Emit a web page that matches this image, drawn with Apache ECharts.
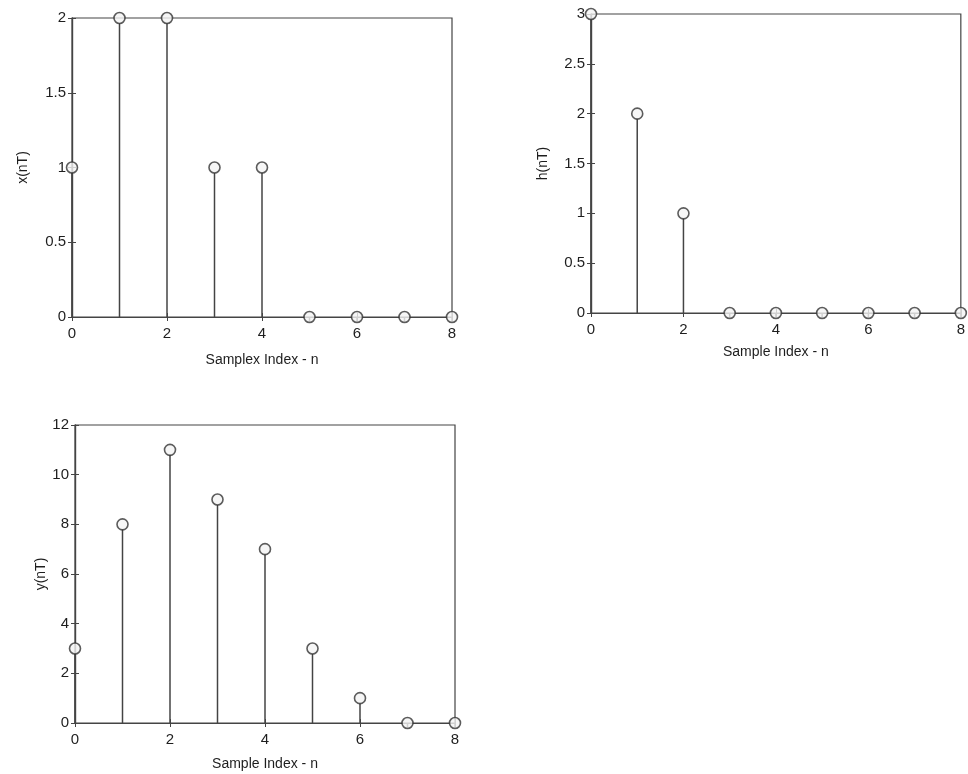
<!DOCTYPE html>
<html><head><meta charset="utf-8">
<script src="https://cdn.jsdelivr.net/npm/echarts@6/dist/echarts.min.js"></script>
<style>html,body{margin:0;padding:0;background:#fff}#c{width:968px;height:774px}</style>
</head><body><div id="c"></div>
<script>
const n = [0,1,2,3,4,5,6,7,8];
const xVals = [1,2,2,1,1,0,0,0,0];
const hVals = [3,2,1,0,0,0,0,0,0];
const yVals = [3,8,11,9,7,3,1,0,0];
const xTickLabels = ['0','2','4','6','8'];

const panels = [
  {vals: xVals, yMax: 2, yInt: 0.5, yName: 'x(nT)', xName: 'Samplex Index - n',
   grid: {left: 72, top: 18, width: 380, height: 299}, xGap: 36, yGap: 42},
  {vals: hVals, yMax: 3, yInt: 0.5, yName: 'h(nT)', xName: 'Sample Index - n',
   grid: {left: 591, top: 14, width: 374, height: 299}, xGap: 32, yGap: 41},
  {vals: yVals, yMax: 12, yInt: 2, yName: 'y(nT)', xName: 'Sample Index - n',
   grid: {left: 75, top: 425, width: 380, height: 298}, xGap: 34, yGap: 26}
];

const txt = '#1e1e1e', lineC = '#444444';
const font = 'Liberation Sans, Arial, sans-serif';
const grids = [], xAxes = [], yAxes = [], series = [];
panels.forEach((p, i) => {
  grids.push(Object.assign({show: true, borderColor: lineC, borderWidth: 1.2, backgroundColor: 'transparent'}, p.grid));
  const axLine = {show: true, lineStyle: {color: lineC, width: 1.2}};
  const tick = {show: true, inside: true, length: 4, lineStyle: {color: lineC}};
  xAxes.push({type: 'value', gridIndex: i, min: 0, max: 8, interval: 2, position: 'bottom',
    name: p.xName, nameLocation: 'middle', nameGap: p.xGap,
    nameTextStyle: {color: txt, fontSize: 14, fontFamily: font},
    axisLine: axLine, axisTick: tick, splitLine: {show: false},
    axisLabel: {color: txt, fontSize: 15, fontFamily: font, margin: 9,
      formatter: v => xTickLabels[Math.round(v / 2)]}});
  xAxes.push({type: 'value', gridIndex: i, min: 0, max: 8, interval: 2, position: 'top',
    axisLine: axLine, axisTick: tick, axisLabel: {show: false}, splitLine: {show: false}});
  yAxes.push({type: 'value', gridIndex: i, min: 0, max: p.yMax, interval: p.yInt, position: 'left',
    name: p.yName, nameLocation: 'middle', nameGap: p.yGap,
    nameTextStyle: {color: txt, fontSize: 14, fontFamily: font},
    axisLine: axLine, axisTick: tick, splitLine: {show: false},
    axisLabel: {color: txt, fontSize: 15, fontFamily: font, margin: 6}});
  yAxes.push({type: 'value', gridIndex: i, min: 0, max: p.yMax, interval: p.yInt, position: 'right',
    axisLine: axLine, axisTick: tick, axisLabel: {show: false}, splitLine: {show: false}});
  const data = n.map((k, j) => [k, p.vals[j]]);
  series.push({type: 'custom', xAxisIndex: 2 * i, yAxisIndex: 2 * i, data: data, silent: true,
    clip: false,
    renderItem: (params, api) => {
      const top = api.coord([api.value(0), api.value(1)]);
      const bot = api.coord([api.value(0), 0]);
      return {type: 'line', shape: {x1: top[0], y1: top[1] + 5, x2: bot[0], y2: bot[1]},
        style: {stroke: lineC, lineWidth: 1.5}};
    }});
  series.push({type: 'scatter', xAxisIndex: 2 * i, yAxisIndex: 2 * i, data: data, clip: false,
    symbol: 'circle', symbolSize: 11,
    itemStyle: {color: '#f4f4f4', borderColor: '#333333', borderWidth: 1.6}});
});

const chart = echarts.init(document.getElementById('c'));
chart.setOption({animation: false, backgroundColor: '#ffffff',
  grid: grids, xAxis: xAxes, yAxis: yAxes, series: series});
</script>
</body></html>
